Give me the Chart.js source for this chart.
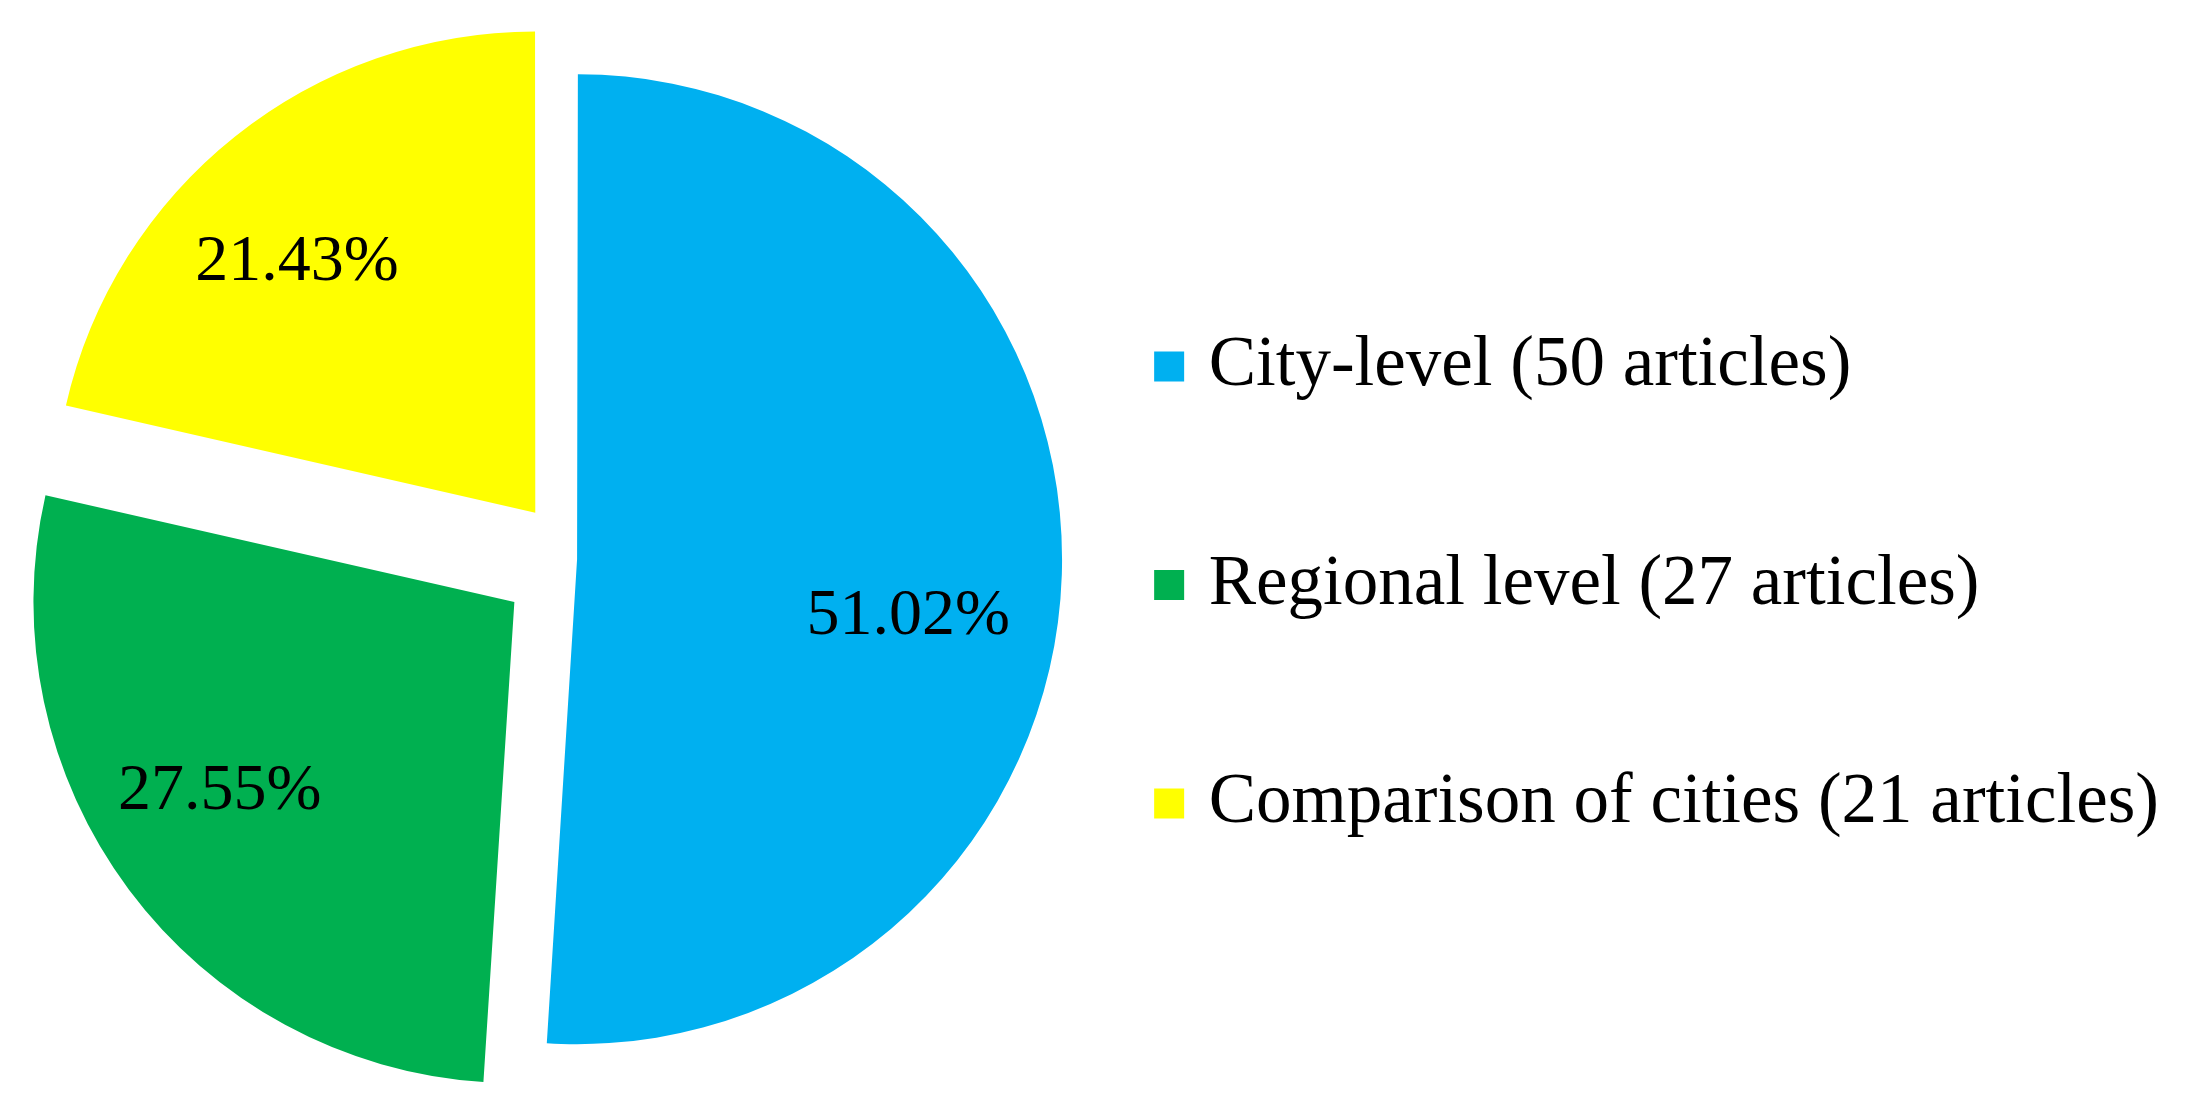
<!DOCTYPE html>
<html>
<head>
<meta charset="utf-8">
<title>Articles by level of analysis</title>
<script src="https://cdn.jsdelivr.net/npm/chart.js@4.4.1/dist/chart.umd.min.js"></script>
<style>
    html, body { margin: 0; padding: 0; background: #ffffff; }
    canvas { display: block; }
</style>
</head>
<body>
<canvas id="articlesPie" width="2193" height="1116"></canvas>
<script>
// data
const categories = ['City-level', 'Regional level', 'Comparison of cities'];
const articleCounts = [50, 27, 21];

// Excel-ish palette, same order as categories
const sliceColors = ['#00B0F0', '#00B050', '#FFFF00'];

const serif = '"Liberation Serif", "Times New Roman", serif';

// percentage inside every slice, placed the same way the arc element shifts itself
const percentLabels = {
    id: 'percentLabels',
    afterDatasetsDraw(chart, args, opts) {
        const ctx = chart.ctx;
        const meta = chart.getDatasetMeta(0);
        const total = articleCounts.reduce((a, b) => a + b, 0);

        ctx.save();
        ctx.font = opts.font;
        ctx.fillStyle = opts.color;
        ctx.textAlign = 'center';
        ctx.textBaseline = 'middle';
        meta.data.forEach((arc, i) => {
            const { x, y, startAngle, endAngle, outerRadius } =
                arc.getProps(['x', 'y', 'startAngle', 'endAngle', 'outerRadius'], true);
            const mid = (startAngle + endAngle) / 2;
            const shift = (arc.options.offset || 0) / 4;   // ArcElement translates by offset / 4
            const a = mid + (opts.nudge[i] || 0) * Math.PI / 180;
            const r = outerRadius * opts.radius[i];
            const px = x + Math.cos(mid) * shift + Math.cos(a) * r;
            const py = y + Math.sin(mid) * shift + Math.sin(a) * r;
            const pct = (articleCounts[i] / total * 100).toFixed(2) + '%';
            ctx.fillText(pct, px, py);
        });
        ctx.restore();
    }
};

const config = {
    type: 'pie',
    data: {
        // one-line arrays so the legend spaces rows by font.lineHeight
        labels: categories.map((c, i) => [`${c} (${articleCounts[i]} articles)`]),
        datasets: [{
            data: articleCounts,
            backgroundColor: sliceColors,
            borderWidth: 0,
            offset: [20, 288, 236],
            radius: 480,
            clip: false
        }]
    },
    options: {
        responsive: false,
        animation: false,
        events: [],
        layout: {
            padding: { left: 19, right: 24, top: 131.5, bottom: 129.5 }
        },
        plugins: {
            legend: {
                position: 'right',
                align: 'end',
                labels: {
                    usePointStyle: true,
                    pointStyle: 'rect',
                    boxWidth: 8,
                    boxHeight: 30,
                    padding: 40,
                    color: '#000000',
                    font: { family: serif, size: 71, lineHeight: 2.514 }
                }
            },
            tooltip: { enabled: false },
            percentLabels: {
                font: '66px ' + serif,
                color: '#000000',
                radius: [0.70, 0.73, 0.72],
                nudge: [8, 4, -5]
            }
        }
    },
    plugins: [percentLabels]
};

const ctx = document.getElementById('articlesPie').getContext('2d');
new Chart(ctx, config);
</script>
</body>
</html>
